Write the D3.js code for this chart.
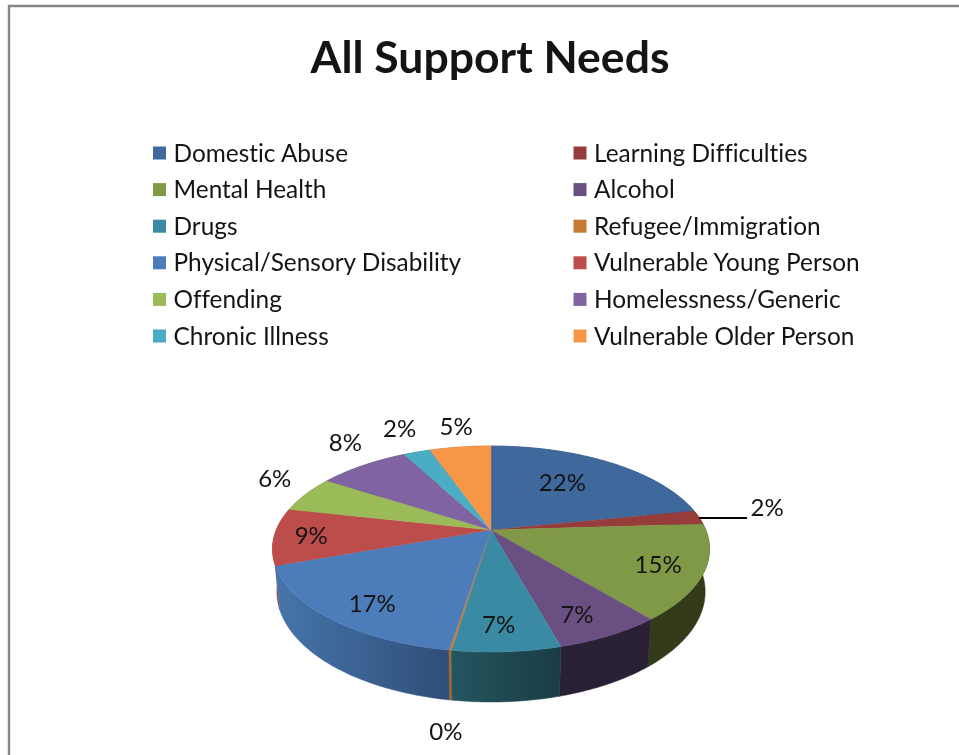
<!DOCTYPE html>
<html><head><meta charset="utf-8">
<script src="https://cdn.jsdelivr.net/npm/d3@7"></script>
<style>html,body{margin:0;padding:0;background:#fff;overflow:hidden}svg{display:block;filter:blur(0.45px)}text{font-family:Lato,Carlito,sans-serif;fill:#141414;font-variant-ligatures:none}</style>
</head><body><svg id="c" width="959" height="755"></svg>
<script>
const chartTitle = "All Support Needs";
const categories = ["Domestic Abuse","Learning Difficulties","Mental Health","Alcohol","Drugs","Refugee/Immigration","Physical/Sensory Disability","Vulnerable Young Person","Offending","Homelessness/Generic","Chronic Illness","Vulnerable Older Person"];
const values = [21.8,2.2,14.9,6.7,6.7,0.15,16.95,8.9,5.7,8.0,2.4,5.4];
const topColors = ["#3f689c","#963d3b","#7f9947","#6a4f82","#3a8aa3","#c87a34","#4c7dba","#bc4d4b","#9bbb59","#8064a2","#4bacc6","#f79646"];
const wallStart = ["#30496d","#6a2b2a","#323a1a","#2a2035","#24555f","#b0682b","#4675ab","#a84442","#6d8340","#5a4672","#357a8c","#ae6a31"];
const wallEnd   = ["#30496d","#6a2b2a","#323a1a","#2a2035","#1a3c45","#a05e26","#2f4e78","#a84442","#6d8340","#5a4672","#357a8c","#ae6a31"];
const labelRadius = [0.64,1.36,0.80,0.81,0.81,1.48,0.81,0.83,1.25,1.32,1.355,1.31];
const labelShift  = [-4.6,-2.4,0.4,2.3,1.3,-3,-2.8,-0.3,4.4,4.8,1.1,0.9];

const cx=491, cy=530, B=214.8, A=99.5, k=0.1845, drop=41.3, lowerA=106.6, lowerB=210.5;
const svg=d3.select("#c");
const project=(a,r=1,bx=B,ay=A,d=0)=>{const u=r*Math.sin(a),v=r*Math.cos(a),w=1+k*v;return [cx+bx*u/w,cy+d-ay*v/w];};
const lowerRim=a=>project(a,1,lowerB,lowerA,drop);
const arcs=d3.pie().sort(null).value(d=>d)(values);
const sample=(a0,a1)=>{const n=Math.max(2,Math.ceil((a1-a0)/0.015));return d3.range(n+1).map(i=>a0+(a1-a0)*i/n);};
const line=d3.line();

// frame
svg.append("path").attr("d","M9,755V6H959").attr("fill","none").attr("stroke","#868686").attr("stroke-width",2.4);

// title
svg.append("text").attr("x",490).attr("y",73).attr("text-anchor","middle").attr("font-size",44.5).attr("font-weight",700).text(chartTitle);

// legend
const legendCol=d3.scaleOrdinal().domain([0,1]).range([153,573.5]);
const legendRow=d3.scalePoint().domain(d3.range(6)).range([153,336]);
const lg=svg.append("g").selectAll("g").data(categories).join("g")
  .attr("transform",(d,i)=>`translate(${legendCol(i%2)},${legendRow(Math.floor(i/2))})`);
lg.append("rect").attr("y",-6.5).attr("width",13).attr("height",13).attr("fill",(d,i)=>topColors[i]);
lg.append("text").attr("x",20.5).attr("y",8.5).attr("font-size",24.4).text(d=>d);

// walls
const defs=svg.append("defs");
arcs.forEach((d,i)=>{
  const xs=sample(d.startAngle,d.endAngle).map(a=>project(a)[0]);
  const g=defs.append("linearGradient").attr("id","w"+i).attr("gradientUnits","userSpaceOnUse")
    .attr("x1",d3.min(xs)).attr("x2",d3.max(xs)+0.01).attr("y1",0).attr("y2",0);
  g.append("stop").attr("offset",0).attr("stop-color",wallStart[i]);
  g.append("stop").attr("offset",1).attr("stop-color",wallEnd[i]);
});
const wallOrder=arcs.map((d,i)=>i).sort((a,b)=>project((arcs[a].startAngle+arcs[a].endAngle)/2)[1]-project((arcs[b].startAngle+arcs[b].endAngle)/2)[1]);
svg.append("g").selectAll("path").data(wallOrder).join("path")
  .attr("d",i=>{const as=sample(arcs[i].startAngle,arcs[i].endAngle);
    return line(as.map(a=>project(a)).concat(as.slice().reverse().map(lowerRim)))+"Z";})
  .attr("fill",i=>`url(#w${i})`).attr("stroke",i=>`url(#w${i})`).attr("stroke-width",0.5);

// top face
svg.append("g").selectAll("path").data(arcs).join("path")
  .attr("d",d=>line([[cx,cy]].concat(sample(d.startAngle,d.endAngle).map(a=>project(a))))+"Z")
  .attr("fill",(d,i)=>topColors[i]).attr("stroke",(d,i)=>topColors[i]).attr("stroke-width",0.4);

// labels
const pct=d3.format(".0f");
const total=d3.sum(values);
const labelPos=(d,i)=>project((d.startAngle+d.endAngle)/2+labelShift[i]*Math.PI/180,labelRadius[i]);
svg.append("g").selectAll("text").data(arcs).join("text")
  .attr("x",(d,i)=>labelPos(d,i)[0]).attr("y",(d,i)=>labelPos(d,i)[1]+8.5)
  .attr("text-anchor","middle").attr("font-size",24).text(d=>pct(d.value/total*100)+"%");

// leader for the Learning Difficulties label
const lead=arcs[1], leadStart=project((lead.startAngle+lead.endAngle)/2);
svg.append("line").attr("x1",leadStart[0]).attr("y1",leadStart[1]+0.5)
  .attr("x2",labelPos(lead,1)[0]-20).attr("y2",leadStart[1]+0.5).attr("stroke","#000").attr("stroke-width",2);
</script></body></html>
